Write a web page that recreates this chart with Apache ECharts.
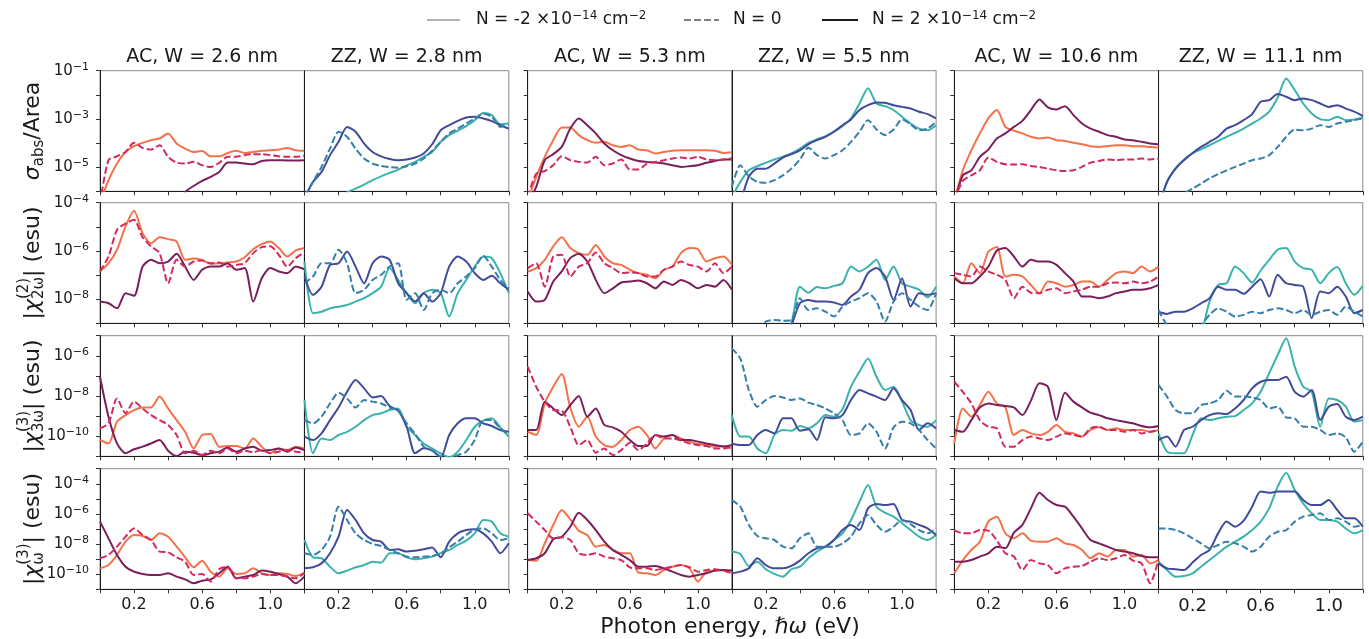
<!DOCTYPE html>
<html>
<head>
<meta charset="utf-8">
<script src="https://cdn.jsdelivr.net/npm/echarts@6/dist/echarts.min.js"></script>
<style>
html, body { margin: 0; padding: 0; background: #fff; }
#main { width: 1369px; height: 639px; }
</style>
</head>
<body>
<div id="main"></div>
<script>
// photon energy grid, eV
var energy = [0, 0.05, 0.1, 0.15, 0.2, 0.25, 0.3, 0.35, 0.4, 0.45, 0.5, 0.55, 0.6, 0.65, 0.7, 0.75, 0.8, 0.85, 0.9, 0.95, 1.0, 1.05, 1.1, 1.15, 1.2];

// values are log10 of the plotted quantity
// _m : N = -2e-14 cm^-2, _z : N = 0, _p : N = 2e-14 cm^-2

// sigma_abs / Area
var abs_ac26_m = [-6.5, -5.54, -4.85, -4.37, -4.13, -3.99, -3.88, -3.81, -3.6, -4.02, -4.23, -4.37, -4.33, -4.55, -4.55, -4.41, -4.32, -4.41, -4.37, -4.32, -4.3, -4.27, -4.2, -4.3, -4.32];
var abs_ac26_z = [-6.5, -4.71, -4.55, -4.37, -3.99, -4.2, -4.27, -4.09, -4.57, -4.81, -4.85, -4.78, -4.92, -4.99, -4.82, -4.57, -4.57, -4.5, -4.46, -4.46, -4.5, -4.55, -4.57, -4.57, -4.53];
var abs_ac26_p = [-7, -7, -7, -7, -7, -7, -7, -7, -7, -6.6, -6.03, -5.78, -5.57, -5.4, -5.2, -4.81, -4.81, -4.85, -4.88, -4.74, -4.71, -4.71, -4.72, -4.72, -4.71];
var abs_zz28_m = [-6.9, -6.75, -6.6, -6.45, -6.3, -6.04, -5.89, -5.72, -5.54, -5.38, -5.24, -5.1, -4.93, -4.78, -4.57, -4.37, -3.95, -3.67, -3.49, -3.3, -3.05, -2.75, -2.84, -3.22, -3.19];
var abs_zz28_z = [-6.2, -5.6, -4.99, -4.23, -3.53, -3.74, -4.23, -4.64, -4.85, -4.95, -5.0, -5.02, -4.96, -4.85, -4.64, -4.32, -3.95, -3.6, -3.4, -3.19, -2.98, -2.77, -2.91, -3.33, -3.26];
var abs_zz28_p = [-6.3, -5.61, -5.2, -4.5, -3.95, -3.33, -3.53, -4.02, -4.37, -4.55, -4.66, -4.71, -4.68, -4.6, -4.43, -4.05, -3.47, -3.26, -3.08, -2.94, -2.91, -2.98, -3.09, -3.26, -3.4];
var abs_ac53_m = [-6.4, -5.4, -4.57, -3.88, -3.35, -3.35, -3.67, -3.88, -3.99, -3.95, -4.09, -4.16, -4.09, -4.27, -4.3, -4.43, -4.37, -4.32, -4.3, -4.3, -4.3, -4.3, -4.32, -4.41, -4.38];
var abs_ac53_z = [-6.24, -5.27, -5.16, -4.92, -4.55, -4.71, -4.78, -4.81, -4.57, -4.92, -4.85, -4.68, -5.1, -5.1, -4.85, -4.78, -4.71, -4.64, -4.6, -4.64, -4.57, -4.68, -4.71, -4.68, -4.64];
var abs_ac53_p = [-6.5, -5.82, -4.71, -4.46, -4.16, -3.4, -2.98, -3.26, -3.6, -4.02, -4.3, -4.5, -4.64, -4.74, -4.78, -4.81, -4.85, -4.92, -4.99, -4.96, -4.92, -4.82, -4.74, -4.68, -4.68];
var abs_zz55_m = [-6.24, -5.61, -5.13, -4.96, -4.82, -4.68, -4.57, -4.43, -4.23, -3.99, -3.85, -3.71, -3.53, -3.3, -2.98, -2.36, -1.73, -2.36, -2.47, -2.63, -2.91, -3.19, -3.4, -3.47, -3.26];
var abs_zz55_z = [-5.82, -4.92, -5.38, -5.61, -5.65, -5.54, -5.34, -5.06, -4.68, -4.19, -4.5, -4.64, -4.5, -4.3, -3.95, -3.53, -3.05, -3.44, -3.67, -3.44, -3.02, -3.22, -3.47, -3.4, -3.12];
var abs_zz55_p = [-6.6, -6.37, -5.4, -5.06, -5.06, -4.85, -4.6, -4.46, -4.3, -4.05, -3.88, -3.74, -3.53, -3.26, -3.02, -2.63, -2.43, -2.32, -2.33, -2.43, -2.5, -2.57, -2.7, -2.8, -2.98];
var abs_ac106_m = [-6.4, -5.13, -4.3, -3.6, -2.98, -2.63, -3.33, -3.49, -3.6, -3.74, -3.81, -3.77, -3.88, -3.91, -3.99, -4.05, -4.13, -4.16, -4.13, -4.09, -4.09, -4.13, -4.13, -4.16, -4.19];
var abs_ac106_z = [-6.37, -5.57, -5.34, -5.13, -4.6, -4.78, -4.88, -4.89, -4.88, -4.95, -4.99, -5.06, -5.13, -5.16, -5.13, -4.99, -4.81, -4.74, -4.68, -4.71, -4.68, -4.68, -4.64, -4.68, -4.64];
var abs_ac106_p = [-6.5, -5.34, -5.13, -4.57, -4.27, -3.81, -3.6, -3.33, -3.08, -2.63, -2.19, -2.52, -2.61, -2.47, -2.84, -3.19, -3.4, -3.53, -3.67, -3.74, -3.85, -3.88, -3.95, -4.02, -4.05];
var abs_zz111_m = [-6.7, -5.61, -5.06, -4.68, -4.43, -4.26, -4.09, -3.91, -3.74, -3.58, -3.4, -3.19, -2.98, -2.7, -2.11, -1.32, -1.8, -2.36, -2.77, -3.01, -3.05, -2.91, -3.05, -3.02, -2.94];
var abs_zz111_z = [-7.2, -7.0, -6.7, -6.1, -5.89, -5.68, -5.47, -5.29, -5.13, -4.99, -4.85, -4.71, -4.64, -4.5, -4.16, -3.74, -3.44, -3.47, -3.4, -3.26, -3.33, -3.19, -3.12, -3.05, -2.98];
var abs_zz111_p = [-6.7, -5.61, -5.06, -4.71, -4.41, -4.16, -3.95, -3.74, -3.4, -3.26, -3.05, -2.8, -2.29, -2.22, -1.97, -2.08, -2.22, -2.15, -2.22, -2.36, -2.5, -2.43, -2.57, -2.7, -2.88];

// |chi(2)_2w| (esu)
var chi2_ac26_m = [-6.85, -6.51, -5.95, -4.98, -4.33, -5.26, -5.68, -5.43, -5.51, -5.61, -6.37, -6.31, -6.37, -6.53, -6.51, -6.48, -6.44, -6.26, -5.93, -5.72, -5.61, -5.88, -6.23, -5.98, -5.88];
var chi2_ac26_z = [-6.85, -6.23, -5.12, -4.87, -4.71, -5.43, -5.81, -6.09, -7.34, -6.37, -6.65, -6.44, -6.4, -6.51, -6.48, -6.65, -6.58, -6.51, -6.09, -5.84, -5.81, -6.16, -6.65, -6.3, -6.06];
var chi2_ac26_p = [-8.1, -8.17, -8.38, -7.75, -7.86, -6.65, -6.37, -6.51, -6.44, -6.12, -6.65, -7.2, -6.78, -6.65, -6.65, -6.51, -6.78, -6.71, -8.1, -7.13, -6.71, -6.85, -6.92, -6.65, -6.76];
var chi2_zz28_m = [-6.44, -8.58, -8.52, -8.38, -8.31, -8.24, -8.1, -7.96, -7.75, -7.48, -6.71, -7.2, -7.75, -8.17, -7.75, -7.61, -7.75, -8.72, -7.75, -7.2, -6.65, -6.23, -6.3, -6.92, -7.75];
var chi2_zz28_z = [-7.34, -7.06, -6.51, -6.51, -5.95, -6.51, -7.75, -7.61, -7.2, -6.99, -6.65, -6.51, -8.03, -7.75, -8.45, -7.75, -7.61, -7.75, -7.34, -7.06, -6.71, -6.2, -6.65, -7.2, -7.55];
var chi2_zz28_p = [-7.06, -7.82, -7.48, -6.58, -6.51, -6.02, -6.65, -7.34, -6.51, -6.23, -6.37, -7.34, -7.75, -8.1, -7.75, -8.1, -7.75, -6.65, -6.23, -6.44, -6.92, -7.2, -7.03, -7.34, -7.61];
var chi2_ac53_m = [-6.85, -6.71, -6.37, -5.81, -5.43, -5.88, -6.09, -6.16, -5.75, -6.23, -6.51, -6.58, -6.78, -6.92, -6.99, -7.13, -6.78, -6.65, -6.09, -5.88, -5.93, -6.44, -6.3, -6.23, -6.58];
var chi2_ac53_z = [-6.71, -6.51, -7.48, -6.23, -6.16, -7.06, -6.65, -6.51, -6.06, -6.51, -6.71, -6.92, -6.89, -6.92, -7.06, -7.06, -6.78, -6.65, -6.44, -6.58, -6.65, -6.85, -6.51, -6.92, -6.65];
var chi2_ac53_p = [-7.68, -8.1, -8.03, -7.27, -6.85, -6.3, -6.12, -6.44, -7.2, -7.75, -7.55, -7.31, -7.27, -7.23, -7.34, -7.55, -7.27, -7.41, -7.2, -7.34, -7.55, -7.41, -7.48, -7.2, -7.61];
var chi2_zz55_m = [-9.6, -9.6, -9.6, -9.6, -9.6, -9.6, -9.6, -9.0, -7.48, -7.73, -7.5, -7.55, -7.45, -7.34, -6.65, -6.85, -6.65, -6.37, -7.2, -6.65, -7.34, -7.48, -7.61, -7.92, -7.48];
var chi2_zz55_z = [-9.5, -9.5, -9.5, -9.5, -8.93, -8.86, -8.89, -8.86, -7.96, -8.45, -8.38, -8.52, -8.72, -8.31, -8.1, -7.96, -7.75, -8.1, -8.93, -8.1, -7.75, -8.03, -8.31, -8.45, -7.75];
var chi2_zz55_p = [-9.6, -9.6, -9.6, -9.6, -9.6, -9.6, -9.6, -9.07, -8.17, -8.03, -8.1, -8.1, -8.14, -8.24, -7.89, -7.61, -6.92, -6.71, -7.06, -8.03, -7.13, -8.31, -7.75, -7.82, -7.75];
var chi2_ac106_m = [-7.06, -7.34, -6.51, -6.92, -6.02, -5.84, -7.06, -6.99, -7.06, -7.41, -7.75, -7.27, -7.34, -7.48, -7.41, -7.27, -7.27, -7.48, -7.2, -6.92, -6.85, -6.92, -6.65, -6.85, -6.65];
var chi2_ac106_z = [-6.92, -6.99, -7.06, -6.65, -6.85, -6.99, -7.2, -7.96, -7.48, -7.73, -7.75, -7.61, -7.55, -7.75, -7.68, -7.61, -7.48, -7.48, -7.34, -7.31, -7.34, -7.27, -7.34, -7.27, -7.06];
var chi2_ac106_p = [-7.13, -7.34, -7.34, -7.06, -6.65, -5.98, -5.88, -6.23, -6.65, -6.37, -6.44, -6.44, -6.58, -6.92, -7.27, -7.89, -7.89, -7.96, -7.89, -7.75, -7.68, -7.61, -7.61, -7.55, -7.41];
var chi2_zz111_m = [-10, -10, -10, -10, -9.8, -9.42, -8.1, -7.41, -7.34, -6.65, -6.92, -7.31, -6.81, -6.37, -5.95, -5.88, -6.44, -6.71, -6.78, -7.34, -6.92, -6.67, -7.34, -7.82, -7.45];
var chi2_zz111_z = [-8.45, -9.07, -9.3, -9.3, -9.2, -9.07, -8.65, -8.38, -8.52, -8.72, -8.65, -8.52, -8.58, -8.45, -8.38, -8.45, -8.58, -8.45, -8.65, -8.52, -8.45, -8.65, -8.31, -8.52, -8.72];
var chi2_zz111_p = [-8.52, -8.61, -8.52, -8.52, -8.38, -8.17, -7.96, -7.48, -7.61, -7.61, -7.78, -7.48, -7.17, -7.89, -6.99, -7.34, -7.41, -7.48, -8.79, -7.68, -7.75, -7.48, -7.89, -8.58, -8.45];

// |chi(3)_3w| (esu)
var chi3_ac26_m = [-10.19, -10.36, -9.28, -8.95, -8.7, -8.57, -8.57, -8.03, -8.62, -9.2, -9.78, -10.61, -9.94, -9.89, -10.52, -10.49, -10.49, -10.61, -10.11, -10.52, -10.85, -10.61, -10.69, -10.52, -10.61];
var chi3_ac26_z = [-9.61, -9.36, -8.12, -8.86, -8.28, -8.62, -8.95, -9.2, -9.44, -9.94, -10.85, -10.72, -10.94, -10.72, -10.85, -10.61, -10.85, -10.72, -10.8, -10.69, -10.85, -10.77, -10.69, -10.77, -10.82];
var chi3_ac26_p = [-7.04, -9.03, -10.36, -10.85, -10.65, -10.52, -10.36, -10.19, -10.72, -10.99, -10.77, -10.82, -10.94, -10.85, -10.77, -10.56, -10.77, -10.61, -10.52, -10.72, -10.69, -10.61, -10.77, -10.56, -10.69];
var chi3_zz28_m = [-8.2, -10.85, -10.11, -10.19, -9.94, -9.78, -9.53, -9.2, -8.95, -8.86, -8.7, -8.62, -9.53, -9.94, -10.36, -10.61, -10.85, -11.05, -10.77, -10.19, -9.53, -9.23, -9.11, -9.56, -10.02];
var chi3_zz28_z = [-9.2, -9.36, -9.03, -8.37, -7.84, -8.12, -8.57, -8.2, -8.28, -8.37, -8.57, -8.73, -9.36, -9.89, -10.52, -10.72, -11.02, -11.19, -10.94, -10.77, -10.19, -9.2, -9.2, -9.61, -9.94];
var chi3_zz28_p = [-10.02, -10.19, -9.86, -9.2, -8.57, -7.79, -7.21, -7.62, -8.07, -8.0, -8.5, -8.73, -9.53, -10.85, -10.6, -10.72, -11.05, -9.94, -9.36, -9.11, -9.11, -9.36, -9.49, -9.69, -9.78];
var chi3_ac53_m = [-9.78, -9.94, -8.37, -7.54, -6.91, -8.57, -9.53, -9.03, -10.02, -10.44, -10.52, -10.19, -9.69, -9.53, -9.94, -10.61, -10.11, -9.94, -10.11, -10.27, -10.39, -10.44, -10.52, -10.49, -10.61];
var chi3_ac53_z = [-6.54, -7.54, -8.28, -8.7, -8.73, -9.53, -10.44, -10.19, -10.82, -10.61, -10.94, -10.69, -10.32, -10.69, -10.36, -9.94, -10.11, -10.11, -10.22, -10.36, -10.44, -10.49, -10.61, -10.61, -10.52];
var chi3_ac53_p = [-9.69, -9.69, -8.28, -8.62, -8.95, -8.45, -8.0, -9.03, -8.62, -9.44, -9.56, -9.78, -10.19, -10.49, -10.49, -9.94, -10.02, -9.94, -10.19, -10.19, -10.27, -10.36, -10.44, -10.52, -10.44];
var chi3_zz55_m = [-8.95, -10.02, -10.02, -10.61, -10.85, -9.94, -9.69, -9.73, -9.49, -9.61, -9.36, -8.95, -9.03, -8.66, -7.54, -6.79, -6.13, -7.04, -7.7, -7.54, -8.28, -9.2, -9.44, -9.53, -9.2];
var chi3_zz55_z = [-5.63, -6.13, -7.7, -8.53, -8.2, -8.0, -8.07, -8.2, -8.12, -8.33, -8.45, -8.62, -8.86, -9.2, -9.94, -9.86, -9.36, -9.78, -10.61, -9.56, -9.28, -9.36, -9.69, -10.19, -10.61];
var chi3_zz55_p = [-10.36, -10.44, -10.44, -9.94, -9.69, -9.86, -9.11, -9.11, -9.73, -9.66, -10.19, -9.06, -9.11, -8.95, -8.2, -7.7, -7.87, -8.03, -8.2, -7.62, -8.2, -8.7, -9.69, -9.36, -9.61];
var chi3_ac106_m = [-10.36, -8.62, -9.03, -8.45, -7.79, -8.37, -8.57, -9.94, -9.69, -9.86, -9.94, -9.78, -9.44, -9.78, -9.86, -10.02, -9.69, -9.56, -9.69, -9.61, -9.69, -9.69, -9.69, -9.78, -9.69];
var chi3_ac106_z = [-7.29, -7.79, -8.37, -9.2, -9.53, -9.61, -10.52, -10.52, -10.19, -10.02, -10.11, -10.19, -10.02, -9.86, -9.94, -10.02, -9.61, -9.53, -9.69, -9.69, -9.78, -9.69, -9.86, -9.78, -9.69];
var chi3_ac106_p = [-9.69, -9.78, -9.2, -8.57, -8.37, -8.45, -8.5, -8.57, -8.95, -8.23, -7.37, -7.54, -9.2, -7.84, -8.28, -8.57, -8.83, -8.95, -9.11, -9.2, -9.28, -9.36, -9.49, -9.56, -9.49];
var chi3_zz111_m = [-9.86, -10.77, -10.85, -10.85, -9.94, -9.11, -9.2, -9.11, -9.03, -9.0, -8.7, -8.37, -7.79, -6.87, -5.96, -5.13, -6.54, -7.54, -7.79, -9.53, -8.12, -8.2, -8.53, -9.28, -9.2];
var chi3_zz111_z = [-7.45, -8.03, -8.7, -8.86, -8.86, -8.45, -8.37, -8.2, -7.74, -8.03, -8.03, -8.07, -8.2, -8.62, -8.53, -9.06, -9.11, -9.53, -9.53, -9.69, -9.94, -9.86, -10.06, -10.77, -10.27];
var chi3_zz111_p = [-10.19, -10.02, -10.52, -9.69, -9.53, -9.2, -8.95, -8.86, -8.9, -8.62, -8.2, -7.62, -7.29, -7.21, -7.21, -7.04, -7.79, -8.03, -7.7, -9.2, -8.53, -8.4, -9.03, -9.2, -9.03];

// |chi(3)_w| (esu)
var chi1_ac26_m = [-9.61, -9.39, -8.72, -7.84, -7.4, -7.46, -7.73, -7.29, -7.51, -8.17, -8.88, -9.54, -9.1, -9.83, -10.16, -9.61, -9.98, -9.94, -9.61, -9.94, -10.05, -9.94, -9.98, -10.12, -9.9];
var chi1_ac26_z = [-8.94, -8.72, -8.17, -7.51, -6.96, -7.4, -7.73, -8.5, -8.55, -8.88, -9.17, -10.05, -9.98, -10.49, -9.67, -9.5, -10.27, -10.27, -10.16, -9.98, -10.05, -10.05, -10.16, -10.27, -9.94];
var chi1_ac26_p = [-6.51, -7.62, -8.72, -9.5, -9.83, -9.98, -10.05, -10.05, -9.94, -10.16, -10.34, -10.6, -10.43, -10.34, -9.94, -9.5, -10.27, -10.16, -10.05, -9.76, -9.83, -9.98, -10.16, -10.6, -10.16];
var chi1_zz28_m = [-7.73, -8.88, -8.94, -9.5, -9.94, -9.76, -9.54, -9.39, -9.17, -9.23, -8.61, -8.61, -8.88, -9.01, -8.94, -8.83, -8.61, -8.39, -8.06, -7.77, -7.29, -6.4, -6.51, -7.29, -7.51];
var chi1_zz28_z = [-8.61, -8.72, -8.39, -7.51, -5.52, -6.4, -7.29, -7.73, -7.99, -8.13, -8.39, -8.61, -8.83, -8.88, -8.83, -8.79, -8.61, -8.22, -7.84, -7.4, -7.02, -6.96, -7.29, -7.73, -7.62];
var chi1_zz28_p = [-9.61, -9.54, -9.28, -8.61, -7.51, -5.74, -6.4, -7.29, -7.73, -7.84, -8.39, -8.35, -8.5, -8.44, -8.35, -8.22, -8.88, -7.84, -7.29, -7.07, -7.02, -7.29, -7.84, -8.61, -7.95];
var chi1_ac53_m = [-9.06, -9.1, -7.95, -6.73, -5.74, -6.36, -7.11, -7.4, -8.17, -8.06, -8.39, -8.61, -8.61, -9.9, -9.94, -10.05, -9.72, -9.5, -9.39, -9.61, -10.49, -9.83, -9.76, -9.72, -9.94];
var chi1_ac53_z = [-5.96, -6.51, -7.07, -7.62, -7.55, -7.73, -8.61, -8.72, -8.61, -8.83, -8.94, -9.06, -9.54, -9.61, -9.61, -9.72, -9.61, -9.5, -9.39, -9.54, -9.83, -9.72, -9.67, -9.76, -9.94];
var chi1_ac53_p = [-9.06, -8.94, -8.61, -7.68, -7.51, -6.85, -5.92, -6.4, -7.07, -7.84, -8.39, -8.72, -9.06, -9.5, -9.5, -9.45, -9.61, -9.83, -10.05, -10.16, -10.05, -9.94, -9.76, -9.72, -9.76];
var chi1_zz55_m = [-8.5, -8.66, -9.45, -9.17, -9.67, -9.98, -10.16, -9.67, -9.5, -8.94, -8.5, -8.17, -7.73, -7.29, -6.4, -5.19, -4.08, -5.52, -5.92, -6.18, -6.62, -7.07, -7.51, -7.73, -7.4];
var chi1_zz55_z = [-5.08, -5.52, -6.73, -7.46, -7.62, -7.73, -8.17, -8.28, -7.62, -7.29, -8.17, -8.17, -8.17, -7.95, -7.51, -6.62, -6.07, -6.73, -7.18, -6.85, -6.4, -6.67, -7.07, -7.29, -6.96];
var chi1_zz55_p = [-9.94, -9.83, -9.61, -8.94, -9.39, -9.61, -9.61, -9.45, -9.1, -8.61, -8.28, -8.17, -7.73, -7.07, -6.73, -7.07, -5.63, -5.34, -5.41, -5.34, -6.4, -6.51, -6.73, -6.96, -7.4];
var chi1_ac106_m = [-9.94, -9.06, -8.39, -7.84, -6.51, -6.18, -7.29, -7.62, -7.29, -7.77, -7.84, -7.84, -7.62, -7.95, -8.06, -8.39, -8.94, -8.61, -8.83, -8.39, -8.39, -8.83, -8.72, -9.28, -9.06];
var chi1_ac106_z = [-7.07, -7.29, -7.29, -7.07, -7.11, -7.77, -8.61, -8.83, -9.72, -9.06, -9.28, -9.39, -9.94, -9.61, -9.5, -9.45, -9.17, -8.94, -9.06, -8.94, -8.72, -9.1, -9.28, -10.6, -9.01];
var chi1_ac106_p = [-9.17, -9.17, -9.06, -8.83, -8.61, -8.17, -8.28, -7.24, -6.73, -5.63, -4.59, -5.08, -5.41, -5.52, -6.18, -6.96, -7.73, -7.95, -8.17, -8.39, -8.5, -8.61, -8.79, -8.88, -8.88];
var chi1_zz111_m = [-9.17, -9.72, -10.16, -10.12, -9.94, -9.5, -9.06, -8.61, -8.17, -7.84, -7.51, -7.07, -6.51, -5.63, -4.19, -3.27, -4.41, -5.3, -5.96, -6.4, -6.4, -6.51, -6.96, -7.29, -7.07];
var chi1_zz111_z = [-6.96, -6.98, -7.07, -7.29, -7.62, -7.95, -8.28, -8.06, -7.84, -7.95, -8.17, -8.5, -8.17, -7.51, -7.18, -7.07, -6.51, -6.18, -6.07, -5.96, -6.4, -6.29, -6.51, -6.85, -6.73];
var chi1_zz111_p = [-9.28, -9.61, -9.67, -9.72, -9.23, -8.72, -8.39, -7.29, -6.51, -6.85, -6.45, -5.52, -4.52, -4.59, -4.52, -4.52, -4.52, -5.08, -5.41, -5.41, -5.08, -5.74, -6.29, -6.29, -6.85];

var panelTitles = ['AC, W = 2.6 nm', 'ZZ, W = 2.8 nm', 'AC, W = 5.3 nm', 'ZZ, W = 5.5 nm', 'AC, W = 10.6 nm', 'ZZ, W = 11.1 nm'];
var xTickLabels = [0.2, 0.6, 1.0];
// decade range of each row and the decades that carry a label
var yDecades = [[-6, -1], [-9, -4], [-11, -5], [-11, -3]];
var yTickLabels = [[-1, -3, -5], [-4, -6, -8], [-6, -8, -10], [-4, -6, -8, -10]];

var panels = [
  [[abs_ac26_m, abs_ac26_z, abs_ac26_p], [abs_zz28_m, abs_zz28_z, abs_zz28_p], [abs_ac53_m, abs_ac53_z, abs_ac53_p],
   [abs_zz55_m, abs_zz55_z, abs_zz55_p], [abs_ac106_m, abs_ac106_z, abs_ac106_p], [abs_zz111_m, abs_zz111_z, abs_zz111_p]],
  [[chi2_ac26_m, chi2_ac26_z, chi2_ac26_p], [chi2_zz28_m, chi2_zz28_z, chi2_zz28_p], [chi2_ac53_m, chi2_ac53_z, chi2_ac53_p],
   [chi2_zz55_m, chi2_zz55_z, chi2_zz55_p], [chi2_ac106_m, chi2_ac106_z, chi2_ac106_p], [chi2_zz111_m, chi2_zz111_z, chi2_zz111_p]],
  [[chi3_ac26_m, chi3_ac26_z, chi3_ac26_p], [chi3_zz28_m, chi3_zz28_z, chi3_zz28_p], [chi3_ac53_m, chi3_ac53_z, chi3_ac53_p],
   [chi3_zz55_m, chi3_zz55_z, chi3_zz55_p], [chi3_ac106_m, chi3_ac106_z, chi3_ac106_p], [chi3_zz111_m, chi3_zz111_z, chi3_zz111_p]],
  [[chi1_ac26_m, chi1_ac26_z, chi1_ac26_p], [chi1_zz28_m, chi1_zz28_z, chi1_zz28_p], [chi1_ac53_m, chi1_ac53_z, chi1_ac53_p],
   [chi1_zz55_m, chi1_zz55_z, chi1_zz55_p], [chi1_ac106_m, chi1_ac106_z, chi1_ac106_p], [chi1_zz111_m, chi1_zz111_z, chi1_zz111_p]]
];

// y axis titles, as pieces: sup / sub pieces are small and shifted, 'stack' puts the next piece under it
var yNameParts = [
  [{ t: 'σ', it: true }, { t: 'abs', sub: true }, { t: '/Area' }],
  [{ t: '|' }, { t: 'χ', it: true }, { t: '(2)', sup: true, stack: true }, { t: '2ω', sub: true }, { t: '| (esu)' }],
  [{ t: '|' }, { t: 'χ', it: true }, { t: '(3)', sup: true, stack: true }, { t: '3ω', sub: true }, { t: '| (esu)' }],
  [{ t: '|' }, { t: 'χ', it: true }, { t: '(3)', sup: true, stack: true }, { t: 'ω', sub: true }, { t: '| (esu)' }]
];

// layout
var FONT = '"DejaVu Sans", sans-serif';
var INK = '#1a1a1a';
var colLeft = [100, 304.5, 527.7, 731.8, 954.3, 1158.5];
var colW = 204.3;
var rowTop = [70.7, 202.7, 335.7, 468.7];
var rowH = 120.6;
var acColors = ['#f4714a', '#d42a5b', '#7a1f5c'];
var zzColors = ['#3cb2ad', '#377fab', '#414b9a'];

var grids = [], xAxes = [], yAxes = [], series = [], graphics = [];

for (var r = 0; r < 4; r++) {
  for (var c = 0; c < 6; c++) {
    var idx = grids.length;
    grids.push({
      left: colLeft[c], top: rowTop[r], width: colW, height: rowH,
      show: true, borderColor: '#8a8a8a', borderWidth: 1, backgroundColor: 'transparent'
    });
    xAxes.push({
      type: 'value', gridIndex: idx, min: 0, max: 1.2, interval: 0.2,
      axisLine: { show: true, onZero: false, lineStyle: { color: INK, width: 1 } },
      axisTick: { show: true, inside: false, length: 4, lineStyle: { color: '#333' } },
      splitLine: { show: false },
      axisLabel: {
        show: r === 3, margin: 8, color: INK, fontFamily: FONT, fontSize: c === 5 ? 18 : 16,
        formatter: function (v) {
          var t = Math.round(v * 10) / 10;
          return xTickLabels.indexOf(t) >= 0 ? t.toFixed(1) : '';
        }
      }
    });
    (function (row) {
      yAxes.push({
        type: 'log', logBase: 10, gridIndex: idx,
        min: Math.pow(10, yDecades[row][0]), max: Math.pow(10, yDecades[row][1]),
        splitNumber: yDecades[row][1] - yDecades[row][0],
        axisLine: { show: true, lineStyle: { color: INK, width: 1 } },
        axisTick: { show: c % 2 === 0, inside: false, length: 4, lineStyle: { color: '#333' } },
        splitLine: { show: false },
        minorTick: { show: false },
        axisLabel: {
          show: c === 0, margin: 11,
          formatter: function (v) {
            var e = Math.round(Math.log10(v));
            return yTickLabels[row].indexOf(e) >= 0 ? '{b|10}{s|\u2212' + Math.abs(e) + '}' : '';
          },
          rich: {
            b: { fontSize: 15, fontFamily: FONT, color: INK },
            s: { fontSize: 11, fontFamily: FONT, color: INK, padding: [0, 0, 8, 0] }
          }
        }
      });
    })(r);

    var colors = c % 2 === 0 ? acColors : zzColors;
    for (var s = 0; s < 3; s++) {
      var vals = panels[r][c][s];
      series.push({
        type: 'line', xAxisIndex: idx, yAxisIndex: idx,
        data: energy.map(function (x, k) { return [x, Math.pow(10, vals[k])]; }),
        showSymbol: false, symbol: 'none', smooth: 0.25, silent: true,
        lineStyle: { color: colors[s], width: 2, type: s === 1 ? [7, 3] : 'solid' },
        itemStyle: { color: colors[s] },
        z: s === 1 ? 3 : 2
      });
    }
  }
}

// y axis titles, drawn as rotated text groups so the super/subscripts can stack
var measureCtx = document.createElement('canvas').getContext('2d');
function textW(str, font) { measureCtx.font = font; return measureCtx.measureText(str).width; }

yNameParts.forEach(function (parts, row) {
  var children = [], pos = 0, pending = 0;
  var placed = parts.map(function (p) {
    var small = p.sup || p.sub;
    var font = (p.it ? 'italic ' : '') + (small ? '15px ' : '22px ') + FONT;
    return { p: p, font: font, w: textW(p.t, font) };
  });
  placed.forEach(function (q) {
    q.x = pos;
    if (q.p.stack) { pending = q.w; }
    else { pos += Math.max(q.w, pending); pending = 0; }
  });
  var total = pos;
  placed.forEach(function (q) {
    children.push({
      type: 'text', x: q.x - total / 2, y: q.p.sup ? -9 : (q.p.sub ? 6 : 0),
      style: { text: q.p.t, font: q.font, fill: INK, align: 'left', verticalAlign: 'middle' }
    });
  });
  graphics.push({ type: 'group', x: 33, y: rowTop[row] + rowH / 2, rotation: Math.PI / 2, children: children });
});

// column titles
for (var c2 = 0; c2 < 6; c2++) {
  graphics.push({
    type: 'text', x: colLeft[c2] + colW / 2, y: 57,
    style: { text: panelTitles[c2], font: '19px ' + FONT, fill: INK, align: 'center', verticalAlign: 'middle' }
  });
}

// x axis title
graphics.push({
  type: 'text', x: 730, y: 627,
  style: {
    text: '{n|Photon energy, }{i|ℏω}{n| (eV)}', align: 'center', verticalAlign: 'middle',
    rich: {
      n: { fontSize: 22, fontFamily: FONT, fill: INK },
      i: { fontSize: 22, fontFamily: FONT, fontStyle: 'italic', fill: INK }
    }
  }
});

// legend
var legRich = {
  n: { fontSize: 17, fontFamily: FONT, fill: INK },
  s: { fontSize: 12, fontFamily: FONT, fill: INK, padding: [0, 0, 9, 0] }
};
var legendItems = [
  { x1: 427, x2: 460, tx: 476, color: '#b3b3b3', dash: null, text: '{n|N = -2 ×10}{s|−14}{n| cm}{s|−2}' },
  { x1: 684, x2: 719, tx: 733, color: '#808080', dash: [7, 3], text: '{n|N = 0}' },
  { x1: 822, x2: 858, tx: 872, color: '#1a1a1a', dash: null, text: '{n|N = 2 ×10}{s|−14}{n| cm}{s|−2}' }
];
legendItems.forEach(function (it) {
  graphics.push({
    type: 'line', shape: { x1: it.x1, y1: 20, x2: it.x2, y2: 20 },
    style: { stroke: it.color, lineWidth: 2, lineDash: it.dash }
  });
  graphics.push({
    type: 'text', x: it.tx, y: 20,
    style: { text: it.text, rich: legRich, align: 'left', verticalAlign: 'middle' }
  });
});

var chart = echarts.init(document.getElementById('main'));
chart.setOption({
  animation: false,
  backgroundColor: '#ffffff',
  grid: grids,
  xAxis: xAxes,
  yAxis: yAxes,
  series: series,
  graphic: graphics
});
</script>
</body>
</html>
